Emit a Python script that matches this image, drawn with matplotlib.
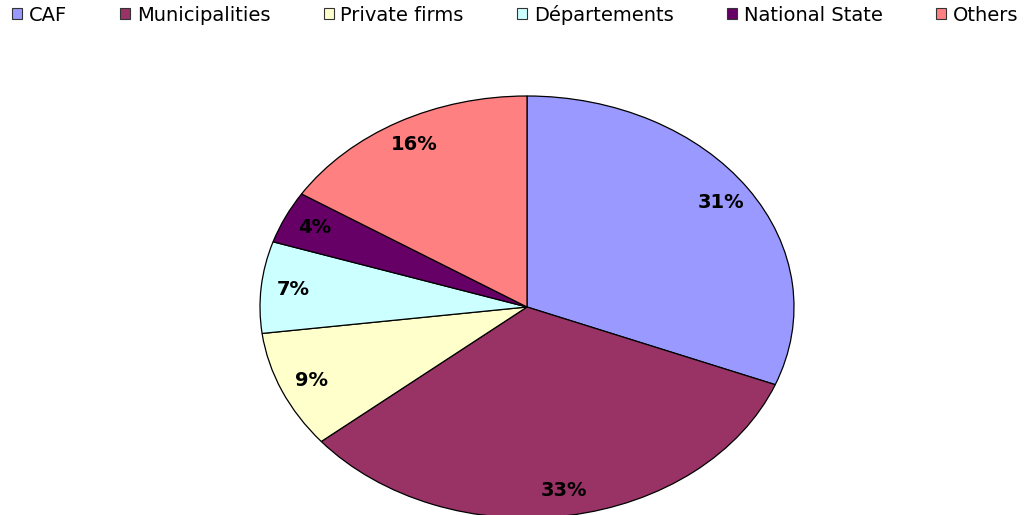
import matplotlib.pyplot as plt
from matplotlib.patches import Patch

plt.rcParams["font.family"] = ["DejaVu Sans"]

labels = ["CAF", "Municipalities", "Private firms", "Départements", "National State", "Others"]
shares = [31, 33, 9, 7, 4, 16]
colors = ["#9999FF", "#993366", "#FFFFCC", "#CCFFFF", "#660066", "#FF8080"]

fig = plt.figure(figsize=(10.24, 5.15), dpi=100)
# elliptical pie: axes box matches the stretched pie extent
ax = fig.add_axes([260 / 1024, 1 - 518 / 515, 534 / 1024, 422 / 515])

wedges, texts, autotexts = ax.pie(
    shares,
    colors=colors,
    startangle=90,
    counterclock=False,
    autopct="%1.0f%%",
    pctdistance=0.88,
    wedgeprops=dict(edgecolor="black", linewidth=0.9),
    textprops=dict(fontsize=14, fontweight="bold", color="black"),
)
ax.set_aspect("auto")
ax.set_xlim(-1.0, 1.0)
ax.set_ylim(-1.0, 1.0)
ax.axis("off")

handles = [Patch(facecolor=c, edgecolor="#333333", linewidth=0.8) for c in colors]
fig.legend(
    handles, labels,
    loc="upper center", bbox_to_anchor=(0.503, 1.025), ncol=6, frameon=False,
    fontsize=14, handlelength=0.5, handleheight=0.5, handletextpad=0.35,
    columnspacing=2.75,
)

fig.savefig("out.png", dpi=100)
